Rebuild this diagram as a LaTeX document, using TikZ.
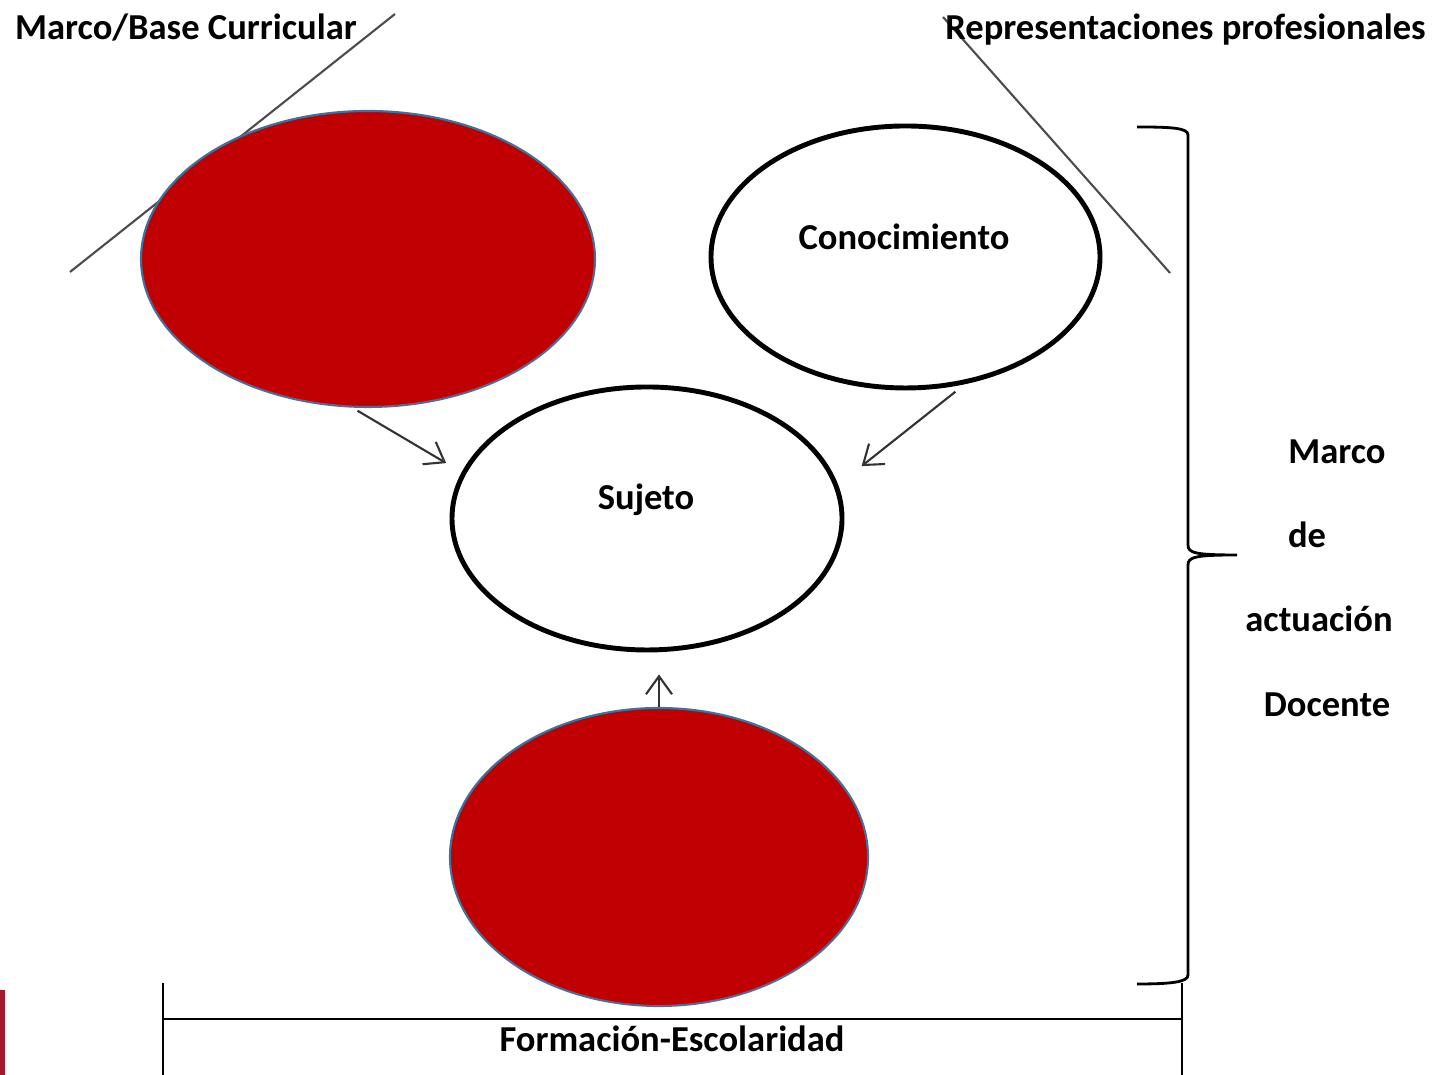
\documentclass[tikz,border=0pt]{standalone}
\usepackage{fontspec}
\setmainfont{Carlito}
\usepackage{tikz}
\usetikzlibrary{
	arrows.meta,
	shapes.geometric
}
\definecolor{bubblered}{HTML}{C00000}
\definecolor{bubbleedge}{HTML}{41719C}
\definecolor{sidebar}{HTML}{A31A2F}
\tikzset{
	>={Straight Barb[length=0.18cm, width=0.26cm]},
	bubble/.style={ellipse, draw, line width=1.4pt, fill=white},
	redbubble/.style={ellipse, draw=bubbleedge, fill=bubblered, line width=0.6pt},
	conn/.style={->, line width=0.6pt, draw=black!80},
	slash/.style={line width=0.6pt, draw=black!70},
	bracket/.style={line width=0.8pt},
	txt/.style={font=\fontsize{10.4pt}{12pt}\selectfont\bfseries, inner sep=0pt, anchor=base}
}

\begin{document}
\begin{tikzpicture}
	\useasboundingbox (0,0) rectangle (14.35,10.75);

	% slashes behind the titles
	\draw[slash] (0.70,8.03) -- (3.95,10.61);
	\draw[slash] (9.43,10.58) -- (11.70,8.02);

	\node[txt] (curtxt) at (1.86,10.35) {Marco/Base Curricular};
	\node[txt] (reptxt) at (11.855,10.35) {Representaciones profesionales};

	\node[redbubble, minimum width=4.54cm, minimum height=2.96cm] (curricular) at (3.68,8.16) {};
	\node[bubble, minimum width=3.89cm, minimum height=2.62cm] (conoc) at (9.055,8.18) {};
	\node[txt] (conoctxt) at (9.04,8.25) {Conocimiento};
	\node[bubble, minimum width=3.90cm, minimum height=2.63cm] (sujeto) at (6.47,5.565) {};
	\node[txt] (sujetotxt) at (6.46,5.65) {Sujeto};
	\node[redbubble, minimum width=4.18cm, minimum height=2.98cm] (escolar) at (6.59,2.18) {};

	\draw[conn, shorten <=0.06cm, shorten >=0.18cm] (curricular.-96) -- (sujeto.166);
	\draw[conn, shorten <=0.12cm, shorten >=0.30cm] (conoc.-65) -- (sujeto.10);
	\draw[conn, shorten >=0.22cm] (escolar.north) -- (escolar.north |- sujeto.south);

	% brace on the right
	\draw[bracket] (11.37,9.48) .. controls (11.72,9.48) and (11.88,9.47) .. (11.88,9.40)
		-- (11.88,5.30) .. controls (11.88,5.22) and (11.95,5.20) .. (12.37,5.20)
		.. controls (11.95,5.20) and (11.88,5.18) .. (11.88,5.10)
		-- (11.88,1.00) .. controls (11.88,0.93) and (11.72,0.91) .. (11.37,0.91);

	\node[txt] (marco) at (13.37,6.11) {Marco};
	\node[txt] (de) at (13.07,5.27) {de};
	\node[txt] (actuacion) at (13.19,4.43) {actuación};
	\node[txt] (docente) at (13.27,3.58) {Docente};

	% bottom bracket
	\draw[bracket] (1.63,0.92) -- (1.63,0);
	\draw[bracket] (11.82,0.92) -- (11.82,0);
	\draw[bracket] (1.63,0.56) -- (11.82,0.56);
	\node[txt] (formacion) at (6.72,0.23) {Formación-Escolaridad};

	\fill[sidebar] (0,0) rectangle (0.05,0.85);
\end{tikzpicture}
\end{document}
